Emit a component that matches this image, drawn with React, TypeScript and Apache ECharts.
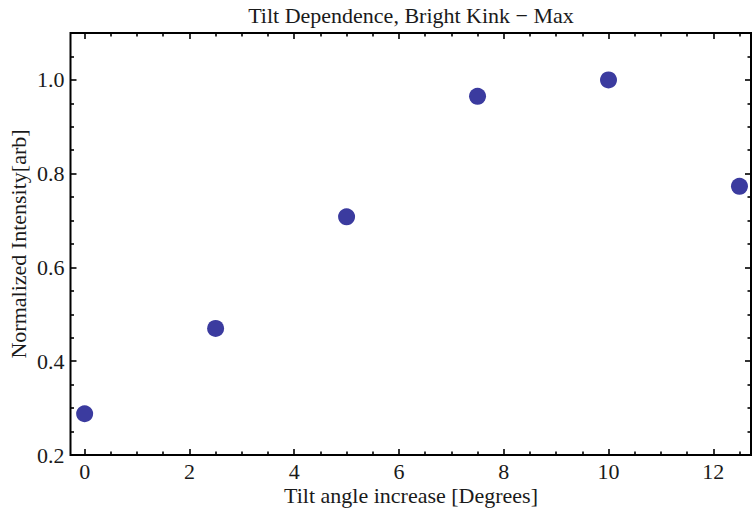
import React, { useEffect, useRef } from "react";
import * as echarts from "echarts";

// Data
const tiltAngles = [0, 2.5, 5, 7.5, 10, 12.5];
const intensities = [0.288, 0.47, 0.708, 0.965, 1.0, 0.773];

// Frame ticks (Mathematica-style, on all four sides)
const xMajorTicks = [0, 2, 4, 6, 8, 10, 12];
const xMinorTicks = [0.5, 1, 1.5, 2.5, 3, 3.5, 4.5, 5, 5.5, 6.5, 7, 7.5, 8.5, 9, 9.5, 10.5, 11, 11.5, 12.5];
const yMajorTicks = [0.2, 0.4, 0.6, 0.8, 1.0];
const yMinorTicks = [0.25, 0.3, 0.35, 0.45, 0.5, 0.55, 0.65, 0.7, 0.75, 0.85, 0.9, 0.95, 1.05];

const titleText = "Tilt Dependence, Bright Kink \u2212 Max";
const xName = "Tilt angle increase [Degrees]";
const yName = "Normalized Intensity[arb]";

const X_MIN = -0.27;
const X_MAX = 12.72;
const Y_MIN = 0.2;
const Y_MAX = 1.1;

const FONT = "Liberation Serif, Times New Roman, DejaVu Serif, serif";
const TEXT_COLOR = "#1a1a1a";
const DOT_COLOR = "#3b3b9f";

function xAxisDef(position: string, ticks: number[], len: number, labels: boolean) {
  return {
    type: "value",
    position,
    min: X_MIN,
    max: X_MAX,
    axisLine: { show: false, onZero: false },
    splitLine: { show: false },
    axisTick: {
      show: true,
      inside: true,
      length: len,
      customValues: ticks,
      lineStyle: { color: "#000", width: 1.6 },
    },
    axisLabel: labels
      ? {
          show: true,
          customValues: ticks,
          formatter: (v: number) => String(v),
          fontFamily: FONT,
          fontSize: 22,
          color: TEXT_COLOR,
          margin: 5,
        }
      : { show: false },
  };
}

function yAxisDef(position: string, ticks: number[], len: number, labels: boolean) {
  return {
    type: "value",
    position,
    min: Y_MIN,
    max: Y_MAX,
    axisLine: { show: false, onZero: false },
    splitLine: { show: false },
    axisTick: {
      show: true,
      inside: true,
      length: len,
      customValues: ticks,
      lineStyle: { color: "#000", width: 1.6 },
    },
    axisLabel: labels
      ? {
          show: true,
          customValues: ticks,
          formatter: (v: number) => v.toFixed(1),
          fontFamily: FONT,
          fontSize: 22,
          color: TEXT_COLOR,
          margin: 6,
        }
      : { show: false },
  };
}

function label(text: string, x: number, y: number, rotation = 0) {
  return {
    type: "text",
    x,
    y,
    rotation,
    style: {
      text,
      fill: TEXT_COLOR,
      fontFamily: FONT,
      fontSize: 22,
      textAlign: "center",
      textVerticalAlign: "middle",
    },
  };
}

export default function App() {
  const ref = useRef<HTMLDivElement>(null);

  useEffect(() => {
    if (!ref.current) return;
    const chart = echarts.init(ref.current, null, { renderer: "svg" });
    const points = tiltAngles.map((x, i) => [x, intensities[i]]);
    chart.setOption({
      animation: false,
      backgroundColor: "#ffffff",
      grid: {
        left: 70.5,
        right: 2,
        top: 33,
        bottom: 60,
        show: true,
        borderColor: "#000",
        borderWidth: 2,
        backgroundColor: "transparent",
      },
      xAxis: [
        xAxisDef("bottom", xMajorTicks, 6, true),
        xAxisDef("bottom", xMinorTicks, 3.5, false),
        xAxisDef("top", xMajorTicks, 6, false),
        xAxisDef("top", xMinorTicks, 3.5, false),
      ],
      yAxis: [
        yAxisDef("left", yMajorTicks, 6, true),
        yAxisDef("left", yMinorTicks, 3.5, false),
        yAxisDef("right", yMajorTicks, 6, false),
        yAxisDef("right", yMinorTicks, 3.5, false),
      ],
      series: [
        {
          type: "scatter",
          xAxisIndex: 0,
          yAxisIndex: 0,
          data: points,
          symbol: "circle",
          symbolSize: 17,
          itemStyle: { color: DOT_COLOR, opacity: 1 },
        },
      ],
      graphic: [
        label(titleText, 411, 15),
        label(xName, 411, 495),
        label(yName, 18, 244, Math.PI / 2),
      ],
    });
    return () => chart.dispose();
  }, []);

  return (
    <div
      ref={ref}
      style={{ position: "absolute", left: 0, top: 0, width: 753, height: 515 }}
    />
  );
}
